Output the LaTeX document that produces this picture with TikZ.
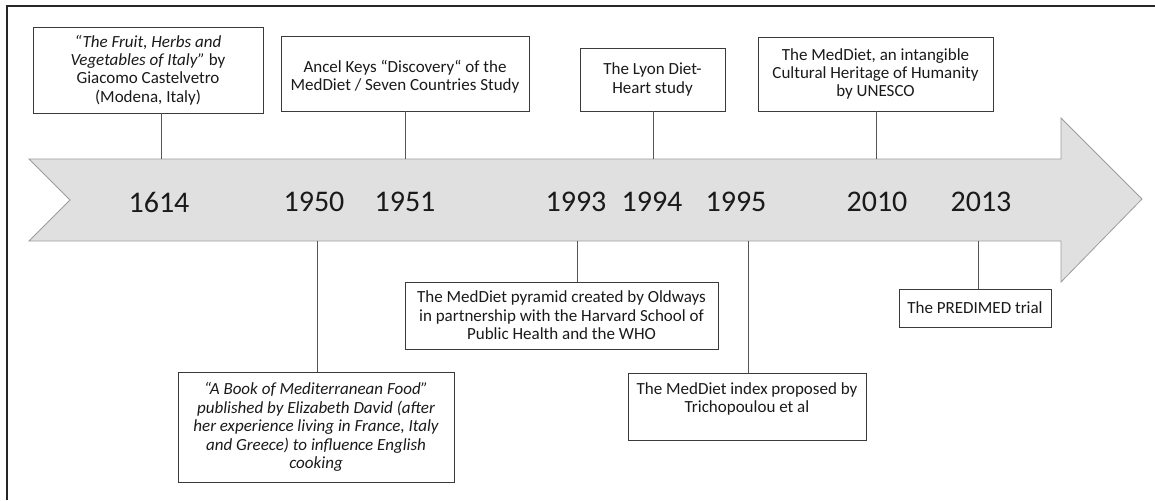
\documentclass[tikz,border=0pt]{standalone}
\usepackage{fontspec}
\setmainfont{Carlito}
\definecolor{arrowfill}{HTML}{E0E0E0}
\definecolor{arrowline}{HTML}{9C9C9C}
\definecolor{boxline}{HTML}{3A3A3A}
\definecolor{linkgray}{HTML}{555555}
\definecolor{inktext}{HTML}{1A1A1A}
\begin{document}
\begin{tikzpicture}[x=1pt,y=-1pt,
    event/.style={draw=boxline, line width=0.9pt, fill=white, align=center, inner sep=0pt,
      text=inktext, font=\fontsize{17}{18.4}\selectfont},
    year/.style={text=inktext, font=\fontsize{30}{34}\selectfont},
    link/.style={draw=linkgray, line width=0.8pt}]
            \useasboundingbox (0,0) rectangle (1155,500);

            % frame (only top and left edges show)
            \draw[black!85, line width=2pt] (7,500) -- (7,6) -- (1155,6);

            % the timeline arrow
            \filldraw[fill=arrowfill, draw=arrowline, line width=0.8pt]
              (29,159) -- (1061,159) -- (1061,118) -- (1142,199) -- (1061,282)
              -- (1061,241) -- (29,241) -- (70,200) -- cycle;

            \node[year] (y1614) at (159,202) {1614};
            \node[year] (y1950) at (314,202) {1950};
            \node[year] (y1951) at (405,202) {1951};
            \node[year] (y1993) at (576,202) {1993};
            \node[year] (y1994) at (652,202) {1994};
            \node[year] (y1995) at (736,202) {1995};
            \node[year] (y2010) at (877,202) {2010};
            \node[year] (y2013) at (981,202) {2013};

            % where the links meet the arrow
            \coordinate (a1614) at (161,159);
            \coordinate (a1951) at (405,159);
            \coordinate (a1994) at (653,159);
            \coordinate (a2010) at (876,159);
            \coordinate (a1950) at (317,241);
            \coordinate (a1993) at (577,241);
            \coordinate (a1995) at (748,241);
            \coordinate (a2013) at (978,241);

            % events above
            \node[event, minimum width=230, minimum height=86] (e1614) at (148,70)
              {{\itshape “The Fruit, Herbs and}\\{\itshape Vegetables of Italy”} by\\Giacomo Castelvetro\\(Modena, Italy)};
            \node[event, minimum width=248, minimum height=75] (e1951) at (405,73.5)
              {\mbox{}\\Ancel Keys “Discovery“ of the\\MedDiet / Seven Countries Study};
            \node[event, minimum width=145, minimum height=63] (e1994) at (652.5,79.5)
              {The Lyon Diet-\\Heart study};
            \node[event, minimum width=235, minimum height=74] (e2010) at (875.5,74)
              {The MedDiet, an intangible\\Cultural Heritage of Humanity\\by UNESCO};

            % events below
            \node[event, minimum width=276, minimum height=110] (e1950) at (316,427)
              {\itshape “A Book of Mediterranean Food”\\\itshape published by Elizabeth David (after\\\itshape her experience living in France, Italy\\\itshape and Greece) to influence English\\\itshape cooking};
            \node[event, minimum width=313, minimum height=67] (e1993) at (561.5,315.5)
              {The MedDiet pyramid created by Oldways\\in partnership with the Harvard School of\\Public Health and the WHO};
            \node[event, minimum width=238, minimum height=67] (e1995) at (747,406.5)
              {The MedDiet index proposed by\\Trichopoulou et al\\\mbox{}};
            \node[event, minimum width=152, minimum height=38] (e2013) at (975,308)
              {The PREDIMED trial};

            \draw[link] (a1614) -- (a1614 |- e1614.south);
            \draw[link] (a1951) -- (a1951 |- e1951.south);
            \draw[link] (a1994) -- (a1994 |- e1994.south);
            \draw[link] (a2010) -- (a2010 |- e2010.south);
            \draw[link] (a1950) -- (a1950 |- e1950.north);
            \draw[link] (a1993) -- (a1993 |- e1993.north);
            \draw[link] (a1995) -- (a1995 |- e1995.north);
            \draw[link] (a2013) -- (a2013 |- e2013.north);
        \end{tikzpicture}
\end{document}
